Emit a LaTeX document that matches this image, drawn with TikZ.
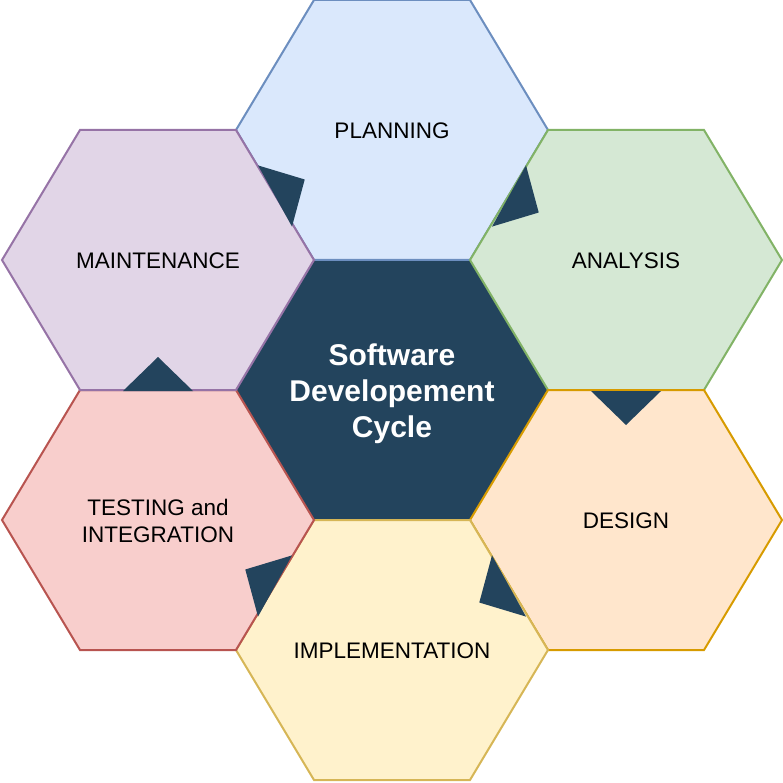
\documentclass[tikz,border=0pt]{standalone}
\usepackage{fontspec}
\setmainfont{Liberation Sans}
\usetikzlibrary{calc}
\definecolor{centrefill}{HTML}{23445D}
\definecolor{planfill}{HTML}{DAE8FC}
\definecolor{plandraw}{HTML}{6C8EBF}
\definecolor{analfill}{HTML}{D5E8D4}
\definecolor{analdraw}{HTML}{82B366}
\definecolor{desgfill}{HTML}{FFE6CC}
\definecolor{desgdraw}{HTML}{D79B00}
\definecolor{implfill}{HTML}{FFF2CC}
\definecolor{impldraw}{HTML}{D6B656}
\definecolor{testfill}{HTML}{F8CECC}
\definecolor{testdraw}{HTML}{B85450}
\definecolor{maintfill}{HTML}{E1D5E7}
\definecolor{maintdraw}{HTML}{9673A6}
\begin{document}
\begin{tikzpicture}[x=1pt, y=-1pt,
    hexcell/.pic={\path[pic actions] (-78,-130) -- (78,-130) -- (156,0)
      -- (78,130) -- (-78,130) -- (-156,0) -- cycle;},
    cell/.style={line width=2pt, line join=miter},
    phasetext/.style={font=\fontsize{22.5}{27}\selectfont, align=center},
    notch/.style={fill=centrefill}]
      \useasboundingbox (0,0) rectangle (783,783);

      % centre
      \pic[cell, fill=centrefill, draw=centrefill] at (392,390) {hexcell};%
      \node [font=\fontsize{30}{36}\selectfont\bfseries, align=center,
      text=white] (core) at (392,394) {Software\\Developement\\Cycle};%

      % phases, clockwise from the top
      \pic[cell, fill=planfill, draw=plandraw] at (392,130) {hexcell};%
      \node [phasetext] (plan) at (392,131) {PLANNING};%

      \pic[cell, fill=analfill, draw=analdraw] at (626,260) {hexcell};%
      \node [phasetext] (anal) at (626,261) {ANALYSIS};%

      \pic[cell, fill=desgfill, draw=desgdraw] at (626,520) {hexcell};%
      \node [phasetext] (desg) at (626,521) {DESIGN};%

      \pic[cell, fill=implfill, draw=impldraw] at (392,650) {hexcell};%
      \node [phasetext] (impl) at (392,651) {IMPLEMENTATION};%

      \pic[cell, fill=testfill, draw=testdraw] at (158,520) {hexcell};%
      \node [phasetext] (test) at (158,521) {TESTING and\\INTEGRATION};%

      \pic[cell, fill=maintfill, draw=maintdraw] at (158,260) {hexcell};%
      \node [phasetext] (maint) at (158,261) {MAINTENANCE};%

      % notches
      \foreach \a/\b in {maint/plan, plan/anal, anal/desg, desg/impl,
        impl/test, test/maint}
      \fill [notch] ($(\a.center)!.5!(\b.center)!35pt!90:(\b.center)$)
      -- ($(\a.center)!.5!(\b.center)!34pt!(\b.center)$)
      -- ($(\a.center)!.5!(\b.center)!35pt!-90:(\b.center)$) -- cycle;%
    \end{tikzpicture}
\end{document}
